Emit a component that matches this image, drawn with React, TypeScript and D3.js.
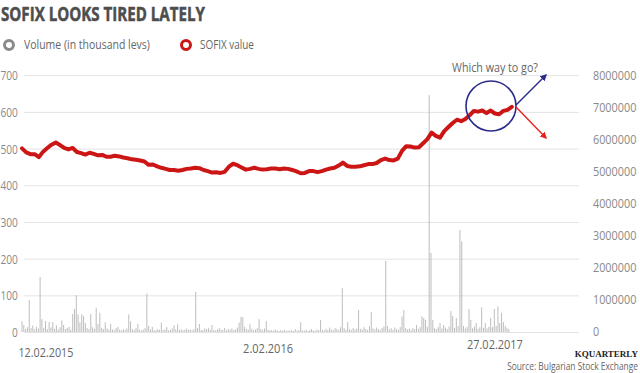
import React, { useLayoutEffect, useRef, useState } from "react";
import * as d3 from "d3";

const title = "SOFIX LOOKS TIRED LATELY";
const legendItems = ["Volume (in thousand levs)", "SOFIX value"];
const annotation = "Which way to go?";
const source = "Source: Bulgarian Stock Exchange";
const brand = "KQUARTERLY";

const leftTicks = [0, 100, 200, 300, 400, 500, 600, 700];
const rightTicks = [0, 1000, 2000, 3000, 4000, 5000, 6000, 7000, 8000]; // thousands
const xLabels = ["12.02.2015", "2.02.2016", "27.02.2017"];
const xLabelDates = ["2015-02-12", "2016-02-02", "2017-02-27"];

const startDate = "2015-01-05";
const endDate = "2017-03-24";

// SOFIX weekly readings (from start date, 7-day steps)
const sofixWeekly = [
  502, 491, 486, 486, 478, 493, 503, 512, 518, 511,
  503, 499, 503, 492, 489, 485, 490, 487, 483, 484,
  479, 479, 482, 480, 477, 475, 472, 471, 469, 466,
  457, 458, 453, 449, 446, 443, 443, 441, 443, 446,
  447, 449, 448, 443, 440, 436, 437, 435, 438, 452,
  460, 456, 450, 444, 446, 449, 446, 444, 445, 447,
  447, 445, 447, 446, 443, 439, 434, 435, 440, 440,
  437, 440, 444, 447, 449, 455, 463, 454, 452, 452,
  453, 456, 459, 459, 462, 470, 474, 470, 469, 474,
  495, 508, 507, 504, 505, 516, 527, 545, 536, 531,
  549, 560, 571, 580, 576, 582, 592, 604, 602, 605,
  598, 605, 597, 595, 604, 607, 615,
];

// Volume readings in thousands (3-day steps from start date)
const volume = [
  340, 220, 90, 150, 990, 120, 200, 80, 160, 110,
  1720, 400, 130, 340, 90, 310, 140, 310, 100, 210,
  80, 150, 360, 220, 90, 130, 160, 70, 560, 720,
  1150, 550, 300, 550, 500, 280, 120, 90, 560, 150,
  100, 760, 250, 600, 130, 90, 300, 110, 70, 250,
  80, 60, 120, 160, 70, 50, 90, 60, 110, 550,
  330, 90, 60, 120, 250, 70, 50, 80, 120, 1200,
  190, 80, 160, 60, 50, 90, 70, 290, 60, 80,
  160, 50, 70, 110, 210, 80, 240, 60, 90, 50,
  70, 110, 60, 80, 50, 90, 1250, 120, 250, 70,
  60, 110, 90, 130, 70, 220, 60, 50, 80, 120,
  70, 60, 130, 50, 90, 70, 110, 60, 80, 140,
  290, 470, 470, 160, 90, 70, 240, 100, 60, 80,
  120, 400, 90, 60, 110, 340, 70, 50, 60, 40,
  80, 50, 30, 60, 40, 70, 30, 50, 40, 60,
  30, 90, 40, 60, 310, 50, 40, 70, 30, 60,
  90, 50, 40, 80, 60, 380, 70, 50, 100, 60,
  140, 80, 50, 120, 90, 60, 150, 1380, 120, 70,
  310, 90, 60, 130, 80, 110, 690, 100, 70, 150,
  90, 60, 180, 620, 110, 80, 140, 90, 60, 120,
  170, 2220, 190, 80, 120, 60, 140, 90, 70, 150,
  490, 690, 120, 80, 110, 60, 130, 90, 220, 100,
  150, 490, 440, 380, 160, 7400, 2470, 380, 120, 90,
  150, 280, 110, 220, 140, 90, 170, 650, 500, 130,
  440, 180, 3190, 2830, 190, 110, 160, 720, 380, 120,
  170, 280, 100, 150, 770, 130, 280, 110, 160, 440,
  150, 720, 190, 800, 280, 600, 310, 190, 120, 90,
];

const DAY = 86400000;

type FitProps = {
  x: number; y: number; width: number; children: string;
  [k: string]: any;
};

// Text compressed horizontally (about its anchor x) to a target width
function FitText({ x, y, width, children, ...rest }: FitProps) {
  const ref = useRef<SVGTextElement>(null);
  const [k, setK] = useState(1);
  useLayoutEffect(() => {
    if (ref.current) {
      const w = ref.current.getComputedTextLength();
      if (w > 0) setK(width / w);
    }
  }, [width, children]);
  return (
    <text ref={ref} x={x} y={y} transform={`matrix(${k},0,0,1,${x * (1 - k)},0)`} {...rest}>
      {children}
    </text>
  );
}

export default function App() {
  const W = 640, H = 373;
  const parse = d3.utcParse("%Y-%m-%d");
  const t0 = parse(startDate)!;
  const x = d3.scaleUtc().domain([t0, parse(endDate)!]).range([22, 510]);
  const yL = d3.scaleLinear().domain([0, 700]).range([332.5, 75.7]);
  const yR = d3.scaleLinear().domain([0, 8000]).range([332, 76]);

  const sofix = sofixWeekly.map((v, i) => ({ d: new Date(t0.getTime() + i * 7 * DAY), v }));
  const vols = volume.map((v, i) => ({ d: new Date(t0.getTime() + i * 3 * DAY), v }));

  const line = d3.line<{ d: Date; v: number }>()
    .x((p) => x(p.d))
    .y((p) => yL(p.v))
    .curve(d3.curveLinear);

  const fmtR = (v: number) => String(v * 1000);
  const labelDx = [1, 9, 0];
  const labelY = [357, 353, 349];
  const labelLen = [55, 50, 56];

  const sans = "'Open Sans', 'Liberation Sans', sans-serif";

  return (
    <svg width={W} height={H} style={{ position: "absolute", left: 0, top: 0, background: "#fff" }}
      fontFamily={sans}>
      <FitText x={1} y={21} width={204} fontSize={19.5} fontWeight="bold" fill="#4d4d4d"
        stroke="#4d4d4d" strokeWidth={0.5}>{title}</FitText>

      {/* legend */}
      <circle cx={9} cy={45} r={4.5} fill="none" stroke="#8a8a8a" strokeWidth={3} />
      <FitText x={24} y={49.5} width={126} fontSize={13} fill="#666">{legendItems[0]}</FitText>
      <circle cx={186} cy={45} r={4.5} fill="none" stroke="#cc1616" strokeWidth={3} />
      <FitText x={200} y={49.5} width={54} fontSize={13} fill="#666">{legendItems[1]}</FitText>

      {/* grid */}
      {leftTicks.map((t) => (
        <line key={"g" + t} x1={24} x2={579} y1={yL(t)} y2={yL(t)} stroke="#e3e3e3" strokeWidth={1} />
      ))}
      {leftTicks.map((t) => (
        <FitText key={"l" + t} x={17.8} y={yL(t) + 4.5} width={String(t).length * 5.8} fontSize={13}
          fill="#8a8a8a" textAnchor="end">{String(t)}</FitText>
      ))}
      {rightTicks.map((t) => (
        <FitText key={"r" + t} x={593} y={yR(t) + 4.5} width={fmtR(t).length * 6.2} fontSize={13}
          fill="#8a8a8a">{fmtR(t)}</FitText>
      ))}

      {/* volume bars */}
      {vols.map((p, i) => (
        <rect key={"b" + i} x={x(p.d) - 0.5} width={1} y={yR(p.v)} height={yR(0) - yR(p.v)} fill="#bdbdbd" />
      ))}

      {/* SOFIX line */}
      <path d={line(sofix) || ""} fill="none" stroke="#cc1616" strokeWidth={4} strokeLinejoin="round" strokeLinecap="round" />

      {/* annotation */}
      <defs>
        <marker id="ahB" viewBox="0 0 10 10" refX="8" refY="5" markerWidth="5" markerHeight="5" orient="auto">
          <path d="M0,0 L10,5 L0,10 z" fill="#2b2b8c" />
        </marker>
        <marker id="ahR" viewBox="0 0 10 10" refX="8" refY="5" markerWidth="5" markerHeight="5" orient="auto">
          <path d="M0,0 L10,5 L0,10 z" fill="#e8211d" />
        </marker>
      </defs>
      <circle cx={491} cy={106} r={25} fill="none" stroke="#2b2b8c" strokeWidth={1.6} />
      <line x1={516} y1={105} x2={546} y2={75} stroke="#2b2b8c" strokeWidth={1.4} markerEnd="url(#ahB)" />
      <line x1={516} y1={107} x2={546} y2={138} stroke="#e8211d" strokeWidth={1.4} markerEnd="url(#ahR)" />
      <FitText x={495} y={72} width={86} fontSize={13} fill="#666" textAnchor="middle">{annotation}</FitText>

      {/* x labels */}
      {xLabels.map((l, i) => (
        <FitText key={"x" + i} x={x(parse(xLabelDates[i])!) + labelDx[i]} y={labelY[i]} width={labelLen[i]}
          fontSize={13} fill="#666" textAnchor="middle">{l}</FitText>
      ))}

      <text x={638} y={357} fontSize={9} fontWeight="bold" fill="#222" textAnchor="end"
        fontFamily="'Liberation Serif', 'DejaVu Serif', serif">{brand}</text>
      <FitText x={638} y={370} width={131} fontSize={11.5} fill="#666" textAnchor="end">{source}</FitText>
    </svg>
  );
}
